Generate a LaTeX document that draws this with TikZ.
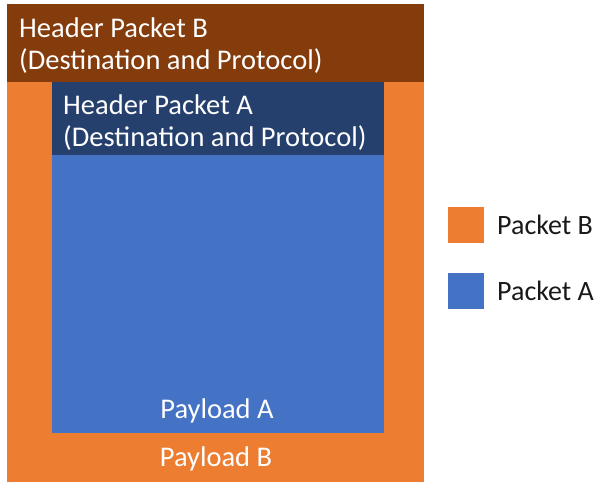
\documentclass[tikz,border=0pt]{standalone}
\usepackage{fontspec}
\setmainfont{Carlito}
\definecolor{pktB}{HTML}{ED7D31}
\definecolor{hdrB}{HTML}{843C0C}
\definecolor{pktA}{HTML}{4472C4}
\definecolor{hdrA}{HTML}{26406E}
\tikzset{
  lbl/.style={text=white, font=\fontsize{28.5}{32}\selectfont, inner sep=0pt},
  leg/.style={text=black!90, font=\fontsize{28}{32}\selectfont, inner sep=0pt, anchor=west},
  sw/.style={minimum width=36pt, minimum height=36pt, inner sep=0pt, draw=none}
}
\begin{document}
\begin{tikzpicture}[x=1pt,y=-1pt]
\useasboundingbox (0,0) rectangle (595,482);
% outer packet B
\fill[pktB] (7,4) rectangle (424,482);
\fill[hdrB] (7,4) rectangle (424,82);
% inner packet A
\fill[pktA] (52,82) rectangle (384,433);
\fill[hdrA] (52,82) rectangle (384,155);
% labels (base anchor = baseline of last line)
\node[lbl, anchor=base west, align=left] (hB) at (19,69) {Header Packet B\\(Destination and Protocol)};
\node[lbl, anchor=base west, align=left] (hA) at (63,146) {Header Packet A\\(Destination and Protocol)};
\node[lbl, anchor=base] (pA) at (217,418) {Payload A};
\node[lbl, anchor=base] (pB) at (216,466) {Payload B};
% legend
\node[sw, fill=pktB] (sB) at (466,225) {};
\node[sw, fill=pktA] (sA) at (466,291) {};
\node[leg] (tB) at (497,225) {Packet B};
\node[leg] (tA) at (497,291) {Packet A};
\end{tikzpicture}
\end{document}
